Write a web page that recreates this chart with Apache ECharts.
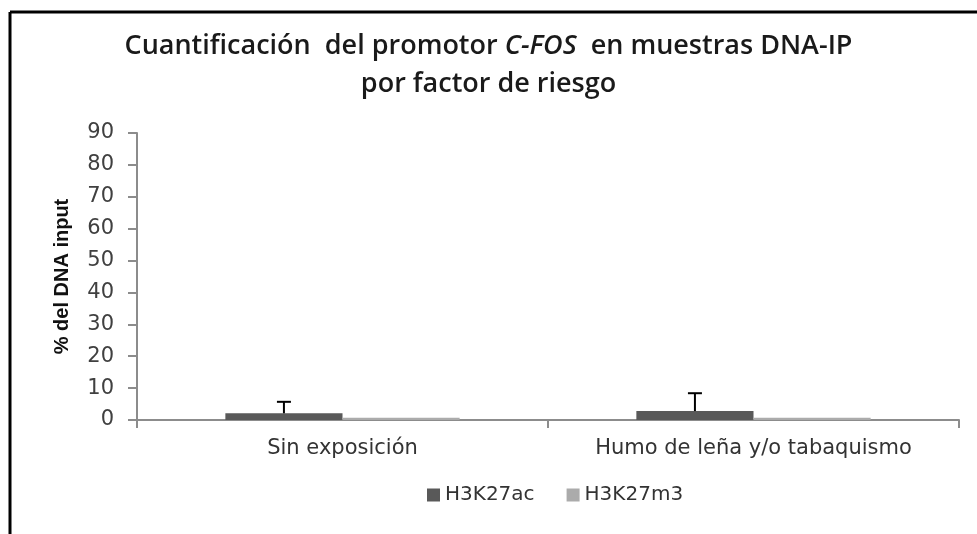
<!DOCTYPE html>
<html>
<head>
<meta charset="utf-8">
<script src="https://cdn.jsdelivr.net/npm/echarts@6/dist/echarts.min.js"></script>
<style>
  html, body { margin: 0; padding: 0; background: #fff; }
  #chart { width: 977px; height: 534px; }
</style>
</head>
<body>
<div id="chart"></div>
<script>
const categories = ['Sin exposición', 'Humo de leña y/o tabaquismo']
const seriesNames = ['H3K27ac', 'H3K27m3']
const acValues = [2.1, 2.8]
const acErrors = [3.6, 5.6]
const m3Values = [0.7, 0.7]
const yTicks = { min: 0, max: 90, interval: 10 }

const chart = echarts.init(document.getElementById('chart'))

const barGapRatio = 0.43

const option = {
  animation: false,
  title: {
    text: '{a|Cuantificación  del promotor }{i|C-FOS}{a|  en muestras DNA-IP}\n{a|por factor de riesgo}',
    left: 'center',
    top: 27,
    padding: [0, 0, 0, 14],
    textStyle: {
      rich: {
        a: { fontFamily: 'Open Sans', fontSize: 27, fontWeight: 600, color: '#1a1a1a', lineHeight: 38 },
        i: { fontFamily: 'Open Sans', fontSize: 27, fontWeight: 600, fontStyle: 'italic', color: '#1a1a1a', lineHeight: 38 },
      },
    },
  },
  graphic: [
    { type: 'line', shape: { x1: 10, y1: 12, x2: 977, y2: 12 }, style: { stroke: '#000', lineWidth: 3 } },
    { type: 'line', shape: { x1: 10, y1: 12, x2: 10, y2: 534 }, style: { stroke: '#000', lineWidth: 3 } },
  ],
  legend: {
    data: seriesNames,
    left: 422,
    top: 480,
    icon: 'rect',
    itemWidth: 13,
    itemHeight: 13,
    itemGap: 32,
    textStyle: { fontFamily: 'DejaVu Sans', fontSize: 20, color: '#333' },
  },
  grid: { left: 137, right: 18, top: 133, bottom: 114 },
  xAxis: {
    type: 'category',
    data: categories,
    axisLine: { lineStyle: { color: '#8c8c8c', width: 2 } },
    axisTick: { show: true, length: 8, lineStyle: { color: '#8c8c8c', width: 2 } },
    axisLabel: { interval: 0, hideOverlap: false, fontFamily: 'DejaVu Sans', fontSize: 21, color: '#333', margin: 18 },
  },
  yAxis: {
    type: 'value',
    min: yTicks.min,
    max: yTicks.max,
    interval: yTicks.interval,
    name: '% del DNA input',
    nameLocation: 'middle',
    nameGap: 65,
    nameTextStyle: { fontFamily: 'Liberation Sans', fontSize: 20, fontWeight: 'bold', color: '#111' },
    axisLine: { show: true, lineStyle: { color: '#8c8c8c', width: 2 } },
    axisTick: { show: true, length: 9, lineStyle: { color: '#8c8c8c', width: 2 } },
    splitLine: { show: false },
    axisLabel: { fontFamily: 'DejaVu Sans', fontSize: 21, color: '#404040', margin: 23 },
  },
  series: [
    {
      name: seriesNames[0],
      type: 'bar',
      data: acValues,
      barGap: 0,
      barCategoryGap: (barGapRatio * 100) + '%',
      itemStyle: { color: '#595959' },
    },
    {
      name: seriesNames[1],
      type: 'bar',
      data: m3Values,
      itemStyle: { color: '#ababab' },
    },
    {
      type: 'custom',
      name: 'error',
      silent: true,
      data: acValues.map((v, i) => [i, v, v + acErrors[i]]),
      renderItem: (params, api) => {
        const band = api.size([1, 0])[0]
        const c = api.coord([api.value(0), api.value(1)])
        const top = api.coord([api.value(0), api.value(2)])
        const x = c[0] - band * (0.5 - barGapRatio / 2 - (1 - barGapRatio) / 4)
        const cap = 7
        return {
          type: 'group',
          children: [
            { type: 'line', shape: { x1: x, y1: c[1], x2: x, y2: top[1] }, style: { stroke: '#000', lineWidth: 2 } },
            { type: 'line', shape: { x1: x - cap, y1: top[1], x2: x + cap, y2: top[1] }, style: { stroke: '#000', lineWidth: 2 } },
          ],
        }
      },
      z: 5,
    },
  ],
}

chart.setOption(option)
</script>
</body>
</html>
